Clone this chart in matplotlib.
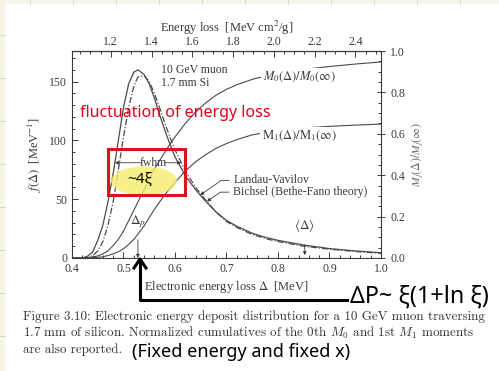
import matplotlib
matplotlib.use("Agg")
import matplotlib.pyplot as plt
import numpy as np
from matplotlib.lines import Line2D
from matplotlib.patches import Rectangle, Ellipse

plt.rcParams["font.family"] = ["Liberation Serif", "DejaVu Serif"]
plt.rcParams["mathtext.fontset"] = "stix"

# energy loss grid [MeV]
delta = [0.40, 0.42, 0.43, 0.44, 0.45, 0.46, 0.47, 0.48, 0.49, 0.50, 0.51, 0.52,
         0.528, 0.54, 0.55, 0.56, 0.57, 0.58, 0.59, 0.60, 0.62, 0.64, 0.66, 0.68,
         0.70, 0.72, 0.75, 0.78, 0.80, 0.85, 0.90, 0.95, 1.00]
# Landau-Vavilov f(Delta) [1/MeV]
landau = [0, 0, 1.5, 5, 15, 28, 48, 72, 100, 128, 148, 158,
          160, 156, 148, 136, 122, 109, 97, 86, 70, 58, 48, 39,
          32, 27, 21, 17, 15, 11, 8, 6, 4.5]
# Bichsel (Bethe-Fano) f(Delta)
bichsel = [0, 0, 0, 2, 6, 14, 28, 48, 75, 103, 128, 146,
           154, 155, 150, 140, 128, 115, 103, 92, 74, 60, 49, 39,
           31, 26, 20, 16, 14, 10, 7.5, 5.5, 4]
# normalized cumulatives
m0 = [0, 0, 0.002, 0.005, 0.01, 0.02, 0.035, 0.06, 0.09, 0.13, 0.18, 0.23,
      0.27, 0.33, 0.38, 0.43, 0.47, 0.51, 0.55, 0.585, 0.65, 0.705, 0.75, 0.787,
      0.815, 0.837, 0.863, 0.882, 0.893, 0.911, 0.925, 0.937, 0.947]
m1 = [0, 0, 0, 0.001, 0.003, 0.006, 0.012, 0.02, 0.03, 0.045, 0.065, 0.09,
      0.115, 0.155, 0.195, 0.235, 0.27, 0.305, 0.335, 0.365, 0.42, 0.465, 0.50, 0.53,
      0.553, 0.572, 0.595, 0.608, 0.615, 0.628, 0.636, 0.642, 0.647]

bottom_ticks = [0.4, 0.5, 0.6, 0.7, 0.8, 0.9, 1.0]
top_ticks = [1.2, 1.4, 1.6, 1.8, 2.0, 2.2, 2.4]
left_ticks = [0, 50, 100, 150]
right_ticks = [0.0, 0.2, 0.4, 0.6, 0.8, 1.0]
rho_x = 0.396  # g/cm2 for 1.7 mm Si

ink = "#3a3a3a"
curve = "#4a4a4a"

fig = plt.figure(figsize=(4.99, 3.71), dpi=100, facecolor="#f6f4e6")
W, H = 499, 371


def fx(px):
    return px / W


def fy(py):
    return 1 - py / H


# notebook page background
fig.patches.append(Rectangle((fx(5), 0), 1, fy(4), transform=fig.transFigure,
                             facecolor="white", edgecolor="none", zorder=-10))
for px in range(30, 499, 43):
    fig.add_artist(Line2D([fx(px), fx(px)], [fy(0), fy(4)], color="#d0d0c8", lw=0.6))
for py in range(35, 371, 43):
    fig.add_artist(Line2D([fx(0), fx(5)], [fy(py), fy(py)], color="#d0d0c8", lw=0.6))

ax = fig.add_axes([fx(72), fy(258), fx(381) - fx(72), fy(51) - fy(258)])
ax.set_facecolor("white")
ax.plot(delta, landau, color=curve, lw=0.9)
ax.plot(delta, bichsel, color=curve, lw=0.9, ls=(0, (5, 1.5, 1, 1.5)))
ax.set_xlim(0.4, 1.0)
ax.set_ylim(0, 176)
ax.set_xticks(bottom_ticks)
ax.set_xticklabels([f"{t:.1f}" for t in bottom_ticks])
ax.set_xticks(np.arange(0.4, 1.001, 0.02), minor=True)
ax.set_yticks(left_ticks)
ax.set_yticks(np.arange(0, 176, 10), minor=True)
ax.tick_params(which="both", direction="in", colors=ink, labelsize=8.5, width=0.7)
ax.tick_params(which="major", length=4)
ax.tick_params(which="minor", length=2)
for s in ax.spines.values():
    s.set_color(ink)
    s.set_linewidth(0.8)
ax.set_xlabel(r"Electronic energy loss $\Delta$  [MeV]", fontsize=9, color=ink, labelpad=3)
ax.set_ylabel(r"$f(\Delta)$  [MeV$^{-1}$]", fontsize=9, color=ink, labelpad=4)

top = ax.secondary_xaxis("top", functions=(lambda d: d / rho_x, lambda e: e * rho_x))
top.set_xticks(top_ticks)
top.set_xticklabels([f"{t:.1f}" for t in top_ticks])
top.set_xticks(np.arange(1.05, 2.55, 0.05), minor=True)
top.tick_params(which="both", direction="in", colors=ink, labelsize=8.5, width=0.7)
top.tick_params(which="major", length=4, pad=2)
top.tick_params(which="minor", length=2)
top.set_xlabel(r"Energy loss  [MeV cm$^2$/g]", fontsize=9, color=ink, labelpad=3)

ax2 = ax.twinx()
ax2.plot(delta, m0, color=curve, lw=0.8)
ax2.plot(delta, m1, color=curve, lw=0.8)
ax2.set_ylim(0, 1)
ax2.set_yticks(right_ticks)
ax2.set_yticklabels([f"{t:.1f}" for t in right_ticks])
ax2.set_yticks(np.arange(0, 1.001, 0.05), minor=True)
ax2.tick_params(which="both", colors=ink, labelsize=8.5, width=0.7)
ax2.tick_params(which="major", direction="inout", length=6)
ax2.tick_params(which="minor", direction="in", length=2)
ax2.set_ylabel(r"$M_j(\Delta)/M_j(\infty)$", fontsize=8.5, color="#6a6a6a", labelpad=3)
for s in ax2.spines.values():
    s.set_visible(False)

ax2.text(0.5725, 0.908, "10 GeV muon", fontsize=8.5, color=ink, va="center", ha="left")
ax2.text(0.5725, 0.845, "1.7 mm Si", fontsize=8.5, color=ink, va="center", ha="left")
ax2.text(0.77, 0.875, r"$M_0(\Delta)/M_0(\infty)$", fontsize=9, color=ink,
         ha="left", va="center",
         bbox=dict(facecolor="white", edgecolor="none", pad=1))
ax2.text(0.768, 0.592, r"$\mathrm{M}_1(\Delta)/\mathrm{M}_1(\infty)$", fontsize=9,
         color=ink, ha="left", va="center",
         bbox=dict(facecolor="white", edgecolor="none", pad=1))

lv_x, bi_x = 0.649, 0.662
ax.annotate("Landau-Vavilov", xy=(lv_x, np.interp(lv_x, delta, landau)),
            xytext=(0.713, 66), fontsize=8.5, color=ink, ha="left", va="center",
            arrowprops=dict(arrowstyle="-|>", color=ink, lw=0.6, mutation_scale=5,
                            shrinkA=1, shrinkB=0,
                            connectionstyle="angle,angleA=180,angleB=35,rad=0"))
ax.annotate("Bichsel (Bethe-Fano theory)", xy=(bi_x, np.interp(bi_x, delta, bichsel)),
            xytext=(0.713, 56), fontsize=8.5, color=ink, ha="left", va="center",
            arrowprops=dict(arrowstyle="-|>", color=ink, lw=0.6, mutation_scale=5,
                            shrinkA=1, shrinkB=0,
                            connectionstyle="angle,angleA=180,angleB=35,rad=0"))

# fwhm marker
ax.text(0.557, 81, "fwhm", fontsize=8.5, color=ink, ha="center", va="center", zorder=6)
ax.annotate("", xy=(0.4835, 81), xytext=(0.536, 81),
            arrowprops=dict(arrowstyle="-|>", color=ink, lw=0.6, mutation_scale=5,
                            shrinkA=0, shrinkB=0))
ax.annotate("", xy=(0.612, 81), xytext=(0.579, 81),
            arrowprops=dict(arrowstyle="-|>", color=ink, lw=0.6, mutation_scale=5,
                            shrinkA=0, shrinkB=0))

ax.annotate(r"$\Delta_p$", xy=(0.528, 0), xytext=(0.528, 31), fontsize=9.5, color=ink,
            ha="center", va="center",
            arrowprops=dict(arrowstyle="-|>", color=ink, lw=0.6, mutation_scale=5,
                            shrinkA=5, shrinkB=0))
ax.annotate(r"$\langle\Delta\rangle$", xy=(0.852, 2.5), xytext=(0.852, 28), fontsize=9.5,
            color=ink, ha="center", va="center",
            arrowprops=dict(arrowstyle="-|>", color=ink, lw=0.6, mutation_scale=5,
                            shrinkA=6, shrinkB=0))

# handwritten notes
hand = ["Noto Sans", "DejaVu Sans"]
red = "#e3001b"
fig.text(fx(80), fy(113), "fluctuation of energy loss", fontsize=11.5, color=red,
         family=hand, ha="left", va="center")
fig.patches.append(Ellipse((fx(144), fy(181)), fx(66), 29 / H, transform=fig.transFigure,
                           facecolor="#f3ee6a", edgecolor="none", alpha=0.8, zorder=3))
fig.patches.append(Rectangle((fx(108), fy(195)), fx(77), 46 / H, transform=fig.transFigure,
                             facecolor="none", edgecolor="#d8141c", lw=2.2, zorder=4))
fig.text(fx(140), fy(179), "~4ξ", fontsize=11, color="black", family=hand,
         ha="center", va="center", weight="bold", zorder=5)

fig.add_artist(Line2D([fx(140), fx(140), fx(347)], [fy(262), fy(300), fy(300)],
                      color="black", lw=2.2))
fig.add_artist(Line2D([fx(134), fx(140), fx(146)], [fy(268), fy(259), fy(268)],
                      color="black", lw=2.2))
fig.text(fx(350), fy(297), "ΔP~ ξ(1+ln ξ)", fontsize=16.8, color="black", family=hand,
         ha="left", va="center")

# caption
cap = dict(family="cmr10", fontsize=9.4, color="#333333", ha="left", va="center",
           math_fontfamily="cm")
fig.text(fx(23), fy(317),
         "Figure 3.10: Electronic energy deposit distribution for a 10 GeV muon traversing", **cap)
fig.text(fx(23), fy(333),
         r"1.7 mm of silicon. Normalized cumulatives of the 0th $M_0$ and 1st $M_1$ moments", **cap)
fig.text(fx(23), fy(350), "are also reported.", **cap)
fig.text(fx(132), fy(352), "(Fixed energy and fixed x)", fontsize=13, color="black",
         family=hand, ha="left", va="center")

fig.savefig("out.png", dpi=100, facecolor=fig.get_facecolor())
